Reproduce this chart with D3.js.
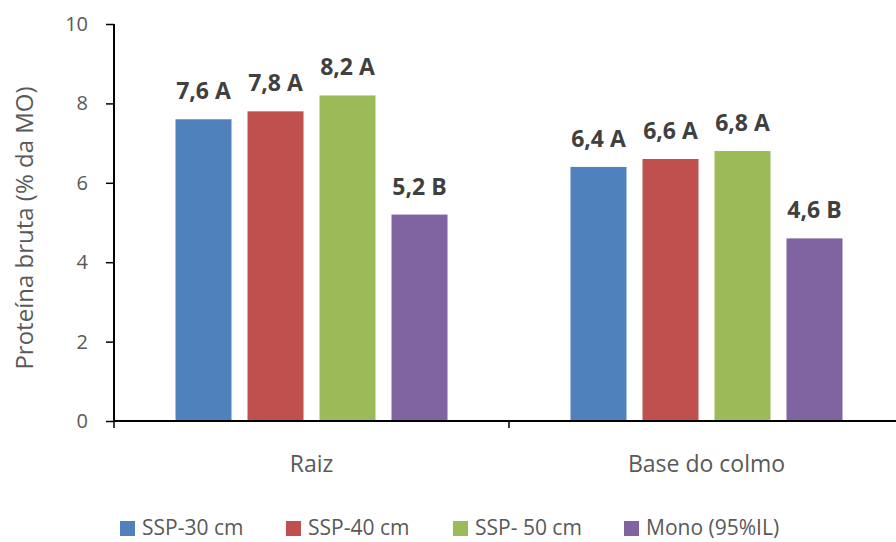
<!DOCTYPE html>
<html>
<head>
<meta charset="utf-8">
<script src="https://cdn.jsdelivr.net/npm/d3@7"></script>
<style>
  html, body { margin: 0; padding: 0; background: #fff; }
  svg text { font-family: "Open Sans", "Noto Sans", sans-serif; }
</style>
</head>
<body>
<svg id="chart" width="896" height="542"></svg>
<script>
// Crude protein content (% of organic matter) by plant part and planting system
const categories = ["Raiz", "Base do colmo"];
const seriesNames = ["SSP-30 cm", "SSP-40 cm", "SSP- 50 cm", "Mono (95%IL)"];
const seriesColors = ["#4F81BD", "#C0504D", "#9BBB59", "#8064A2"];
const valuesRaiz = [7.6, 7.8, 8.2, 5.2];
const valuesBase = [6.4, 6.6, 6.8, 4.6];
const letterRaiz = ["A", "A", "A", "B"];
const letterBase = ["A", "A", "A", "B"];
const yTicks = [0, 2, 4, 6, 8, 10];

const values = [valuesRaiz, valuesBase];
const letters = [letterRaiz, letterBase];

const svg = d3.select("#chart");
const plot = { left: 114, right: 904, top: 24, bottom: 421 };

const x0 = d3.scaleBand().domain(categories).range([plot.left, plot.right]).padding(0);
const innerPad = (x0.bandwidth() - 272) / 2;
const x1 = d3.scaleBand().domain(seriesNames)
  .range([innerPad, x0.bandwidth() - innerPad])
  .paddingInner(16 / 72).paddingOuter(0);
const y = d3.scaleLinear().domain([0, 10]).range([plot.bottom, plot.top]);

// Bars with value + significance letter above each
const groups = svg.append("g").selectAll("g")
  .data(categories)
  .join("g")
  .attr("transform", d => `translate(${x0(d)},0)`);

groups.each(function (cat, ci) {
  const g = d3.select(this);
  const rows = seriesNames.map((s, si) => ({ s, v: values[ci][si], l: letters[ci][si], c: seriesColors[si] }));
  g.selectAll("rect").data(rows).join("rect")
    .attr("x", d => x1(d.s))
    .attr("y", d => y(d.v))
    .attr("width", x1.bandwidth())
    .attr("height", d => y(0) - y(d.v))
    .attr("fill", d => d.c);
  g.selectAll("text.val").data(rows).join("text")
    .attr("class", "val")
    .attr("x", d => x1(d.s) + x1.bandwidth() / 2)
    .attr("y", d => y(d.v) - 20)
    .attr("text-anchor", "middle")
    .attr("font-size", 23)
    .attr("font-weight", "bold")
    .attr("fill", "#404040")
    .text(d => d3.format(".1f")(d.v).replace(".", ",") + " " + d.l);
});

// Y axis
const yAxis = svg.append("g")
  .attr("transform", `translate(${plot.left},0)`)
  .call(d3.axisLeft(y).tickValues(yTicks).tickSize(8).tickPadding(18).tickFormat(d3.format("d")));
yAxis.select(".domain").attr("stroke", "#000").attr("stroke-width", 2)
  .attr("d", `M0,${plot.top}V${plot.bottom}`);
yAxis.selectAll(".tick line").attr("stroke", "#000").attr("stroke-width", 1.5);
yAxis.selectAll(".tick text").attr("font-size", 20).attr("fill", "#595959")
  .attr("font-family", "Open Sans, sans-serif");

// X axis
const xAxis = svg.append("g")
  .attr("transform", `translate(0,${plot.bottom})`)
  .call(d3.axisBottom(x0).tickSize(0).tickPadding(34));
xAxis.select(".domain").attr("stroke", "#000").attr("stroke-width", 2)
  .attr("d", `M${plot.left},0H${plot.right}`);
xAxis.selectAll(".tick text").attr("font-size", 23).attr("fill", "#595959")
  .attr("font-family", "Open Sans, sans-serif")
  .attr("dy", null).attr("y", 51);
// Category boundary ticks
const bounds = categories.map(c => x0(c)).concat([x0(categories[categories.length - 1]) + x0.bandwidth()]);
xAxis.selectAll("line.bound").data(bounds).join("line")
  .attr("class", "bound")
  .attr("x1", d => d).attr("x2", d => d)
  .attr("y1", 0).attr("y2", 7)
  .attr("stroke", "#000").attr("stroke-width", 1.5);

// Y axis title
svg.append("text")
  .attr("transform", `translate(33,228) rotate(-90)`)
  .attr("text-anchor", "middle")
  .attr("font-size", 24)
  .attr("fill", "#595959")
  .text("Proteína bruta (% da MO)");

// Legend
const legendX = [120, 286, 453, 624];
const legend = svg.append("g").selectAll("g")
  .data(seriesNames)
  .join("g")
  .attr("transform", (d, i) => `translate(${legendX[i]},521)`);
legend.append("rect")
  .attr("width", 15).attr("height", 15)
  .attr("fill", (d, i) => seriesColors[i]);
legend.append("text")
  .attr("x", 22).attr("y", 14)
  .attr("font-size", 21)
  .attr("fill", "#595959")
  .text(d => d);
</script>
</body>
</html>
